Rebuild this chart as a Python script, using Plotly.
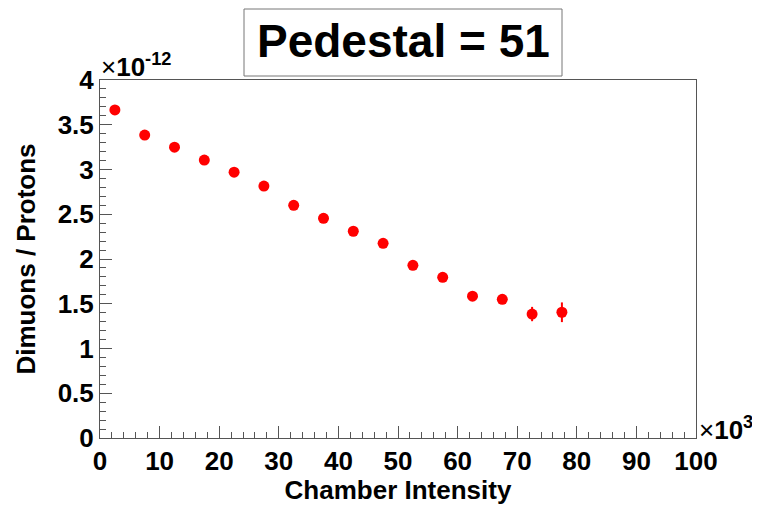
import plotly.graph_objects as go

chamber_intensity_k = [2.5, 7.5, 12.5, 17.5, 22.5, 27.5, 32.5, 37.5, 42.5, 47.5, 52.5, 57.5, 62.5, 67.5, 72.5, 77.5]
ratio_e12 = [3.665, 3.385, 3.25, 3.105, 2.97, 2.815, 2.60, 2.455, 2.31, 2.175, 1.93, 1.795, 1.585, 1.55, 1.385, 1.405]
ratio_err_e12 = [0.03, 0.03, 0.03, 0.03, 0.03, 0.03, 0.03, 0.03, 0.03, 0.03, 0.035, 0.04, 0.04, 0.05, 0.08, 0.11]

y_tick_vals = [0, 0.5, 1, 1.5, 2, 2.5, 3, 3.5, 4]
y_tick_text = ["0", "0.5", "1", "1.5", "2", "2.5", "3", "3.5", "4"]

FONT = "Liberation Sans"

fig = go.Figure()
fig.add_trace(go.Scatter(
    x=chamber_intensity_k, y=ratio_e12, mode="markers",
    marker=dict(color="#ff0000", size=11),
    error_y=dict(type="data", array=ratio_err_e12, color="#ff0000", thickness=2, width=0),
    showlegend=False,
))

axis_common = dict(
    showgrid=False, zeroline=False, showline=True, linecolor="#555555", linewidth=1,
    mirror=True, ticks="inside", tickcolor="#555555", ticklen=12, tickwidth=1,
    automargin=False,
    tickfont=dict(family=FONT, size=26, color="black", weight="bold"),
)

# page body has an 8px margin: the figure starts at (8, 8)
fig.update_layout(
    width=752, height=497,
    margin=dict(l=92, r=64, t=72, b=67),
    paper_bgcolor="white", plot_bgcolor="white",
    xaxis=dict(range=[0, 100], dtick=10,
               minor=dict(ticks="inside", ticklen=6, dtick=2, tickcolor="#555555"),
               title=dict(text="Chamber Intensity", font=dict(family=FONT, size=26, color="black", weight="bold"), standoff=4),
               **axis_common),
    yaxis=dict(range=[0, 4], tickvals=y_tick_vals, ticktext=y_tick_text,
               minor=dict(ticks="inside", ticklen=6, dtick=0.1, tickcolor="#555555"),
               title=dict(text="Dimuons / Protons", font=dict(family=FONT, size=26, color="black", weight="bold"), standoff=14),
               **axis_common),
)

# title box
fig.add_shape(type="rect", xref="paper", yref="paper",
              x0=(244 - 100) / 596, x1=(562 - 100) / 596,
              y0=(438 - 76) / 358, y1=(438 - 9) / 358,
              line=dict(color="#777777", width=1), fillcolor="white")
fig.add_annotation(text="Pedestal = 51", xref="paper", yref="paper",
                   x=(403 - 100) / 596, y=(438 - 41) / 358, showarrow=False,
                   xanchor="center", yanchor="middle",
                   font=dict(family=FONT, size=46, color="black", weight="bold"))

# exponent labels
fig.add_annotation(text="×<b>10<sup>-12</sup></b>", xref="paper", yref="paper",
                   x=(99 - 100) / 596, y=(438 - 84) / 358, showarrow=False,
                   xanchor="left", yanchor="bottom",
                   font=dict(family=FONT, size=26, color="black"))
fig.add_annotation(text="×<b>10<sup>3</sup></b>", xref="paper", yref="paper",
                   x=(697 - 100) / 596, y=(438 - 428) / 358, showarrow=False,
                   xanchor="left", yanchor="middle",
                   font=dict(family=FONT, size=26, color="black"))

fig.write_html("out.html")
